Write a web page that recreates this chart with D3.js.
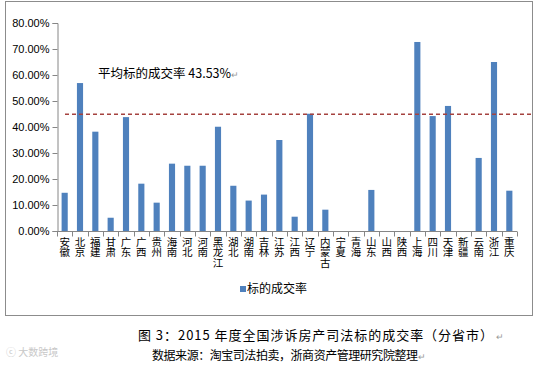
<!DOCTYPE html>
<html><head><meta charset="utf-8">
<script src="https://cdn.jsdelivr.net/npm/d3@7"></script>
<style>body{margin:0;background:#fff;}svg{display:block;} text.lab{writing-mode:vertical-rl;text-orientation:upright;}</style>
</head><body>
<script>
const provinces = ["安徽","北京","福建","甘肃","广东","广西","贵州","海南","河北","河南","黑龙江","湖北","湖南","吉林","江苏","江西","辽宁","内蒙古","宁夏","青海","山东","山西","陕西","上海","四川","天津","新疆","云南","浙江","重庆"];
const rates = [14.7,56.9,38.2,5.1,43.8,18.2,10.9,25.9,25.1,25.1,40.1,17.4,11.7,14.0,35.0,5.5,45.1,8.2,0,0,15.8,0,0,72.7,44.2,48.1,0,28.1,65.0,15.5];
const yTicks = [0,10,20,30,40,50,60,70,80];
const avgLineValue = 44.9;
const avgLabel = "平均标的成交率 43.53%";
const seriesName = "标的成交率";
const caption1 = "图 3：2015 年度全国涉诉房产司法标的成交率（分省市）";
const caption2 = "数据来源：淘宝司法拍卖，浙商资产管理研究院整理";

const W=536,H=367;
const svg=d3.select("body").append("svg").attr("width",W).attr("height",H);
const font="'Liberation Sans','DejaVu Sans',sans-serif";
const cjk="'Noto Sans CJK SC',sans-serif";

// frame
svg.append("rect").attr("x",5.5).attr("y",1.5).attr("width",527).attr("height",314)
  .attr("fill","none").attr("stroke","#8c8c8c").attr("stroke-width",1);

const x=d3.scaleBand().domain(provinces).range([57,517]).paddingInner(0.6).paddingOuter(0.3);
const y=d3.scaleLinear().domain([0,80]).range([231,23]);

// y axis
const ya=svg.append("g").attr("transform","translate(57.5,0)")
  .call(d3.axisLeft(y).tickValues(yTicks).tickSize(5).tickFormat(d=>d.toFixed(2)+"%"));
ya.select(".domain").attr("stroke","#868686");
ya.selectAll(".tick line").attr("stroke","#868686");
ya.selectAll(".tick text").attr("font-family",font).attr("font-size",11).attr("fill","#000").attr("x",-8);

// bars
svg.append("g").selectAll("rect").data(provinces).join("rect")
  .attr("x",d=>x(d)).attr("width",x.bandwidth())
  .attr("y",(d,i)=>y(rates[i])).attr("height",(d,i)=>y(0)-y(rates[i]))
  .attr("fill","#4F81BD");

// x axis
const xa=svg.append("g").attr("transform","translate(0,231.5)");
xa.append("line").attr("x1",57).attr("x2",517).attr("stroke","#868686");
const bounds=d3.range(provinces.length+1).map(i=>57+i*(460/provinces.length));
xa.selectAll("line.tk").data(bounds).join("line").attr("class","tk")
  .attr("x1",d=>Math.round(d)+0.5).attr("x2",d=>Math.round(d)+0.5).attr("y1",0).attr("y2",5).attr("stroke","#868686");
xa.selectAll("text.lab").data(provinces).join("text").attr("class","lab")
  .attr("font-family",cjk).attr("font-size",10.5).attr("fill","#000")
  .attr("x",d=>x(d)+x.bandwidth()/2).attr("y",5)
  .text(d=>d);

// average line
svg.append("line").attr("x1",65).attr("x2",532).attr("y1",y(avgLineValue)).attr("y2",y(avgLineValue))
  .attr("stroke","#A5423F").attr("stroke-width",1.3).attr("stroke-dasharray","4,3");
const at=svg.append("text").attr("x",98).attr("y",78).attr("font-family",cjk).attr("font-size",12.5).attr("fill","#000");
at.append("tspan").text(avgLabel);
at.append("tspan").attr("fill","#999").attr("font-size",9).text("↵");

// legend
svg.append("rect").attr("x",240).attr("y",286).attr("width",6).attr("height",6).attr("fill","#4F81BD");
svg.append("text").attr("x",247).attr("y",293).attr("font-family",cjk).attr("font-size",12).attr("fill","#000").text(seriesName);

// captions
const c1=svg.append("text").attr("x",138).attr("y",340).attr("font-family",cjk).attr("font-size",13).attr("fill","#000");
c1.append("tspan").attr("textLength",355).attr("lengthAdjust","spacing").text(caption1);
c1.append("tspan").attr("fill","#999").attr("font-size",9).text(" ↵");
const c2=svg.append("text").attr("x",152).attr("y",360).attr("font-family",cjk).attr("font-size",12).attr("fill","#000");
c2.append("tspan").attr("textLength",266).attr("lengthAdjust","spacing").text(caption2);
c2.append("tspan").attr("fill","#999").attr("font-size",9).text("↵");

// watermark
svg.append("text").attr("x",6).attr("y",356).attr("font-family",cjk).attr("font-size",10).attr("fill","#c8c8c8").text("ⓒ 大数跨境");
</script>
</body></html>
